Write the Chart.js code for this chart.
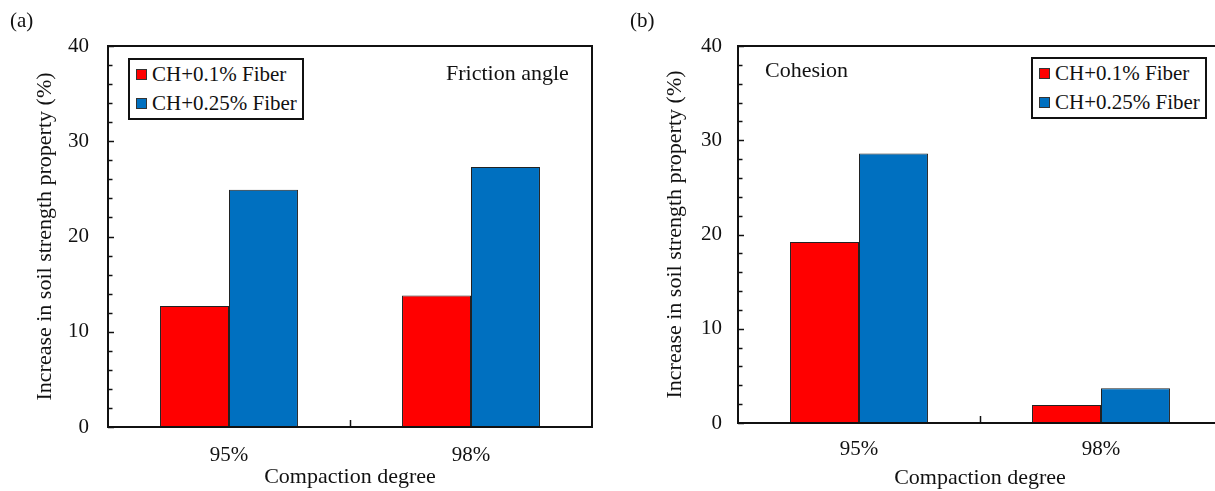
<!DOCTYPE html>
<html>
<head>
<meta charset="utf-8">
<script src="https://cdn.jsdelivr.net/npm/chart.js@4.4.0/dist/chart.umd.min.js"></script>
<style>
  body { margin: 0; background: #fff; }
  #page { position: relative; width: 1215px; height: 491px; overflow: hidden;
          font-family: 'Liberation Serif', 'Times New Roman', serif; color: #111; }
  .panel { position: absolute; top: 0; width: 600px; height: 491px; }
  .panel canvas { position: absolute; left: 0; top: 0; }
  .tag { position: absolute; font-size: 21px; line-height: 24px; white-space: nowrap; }
  .tag.big { font-size: 22px; }
  .legend { position: absolute; border: 2px solid #111; background: #fff; font-size: 21px; }
  .legend .row { display: flex; align-items: center; height: 29px; padding: 0 5px 0 6px; white-space: nowrap; }
  .legend .sw { width: 9px; height: 9px; border: 1px solid #333; margin-right: 5px; }
</style>
</head>
<body>
<div id="page">
  <div class="panel" id="panelA" style="left:0">
    <canvas id="chartA" width="600" height="491"></canvas>
    <div class="tag" style="left:10px; top:8px">(a)</div>
    <div class="tag big" style="left:446px; top:61px">Friction angle</div>
    <div class="legend" id="legendA" style="left:128px; top:58px"></div>
  </div>
  <div class="panel" id="panelB" style="left:630px">
    <canvas id="chartB" width="600" height="491"></canvas>
    <div class="tag" style="left:0px; top:8px">(b)</div>
    <div class="tag big" style="left:135px; top:58px">Cohesion</div>
    <div class="legend" id="legendB" style="left:401px; top:57px"></div>
  </div>
</div>
<script>
// data
const categories = ['95%', '98%'];
const seriesNames = ['CH+0.1% Fiber', 'CH+0.25% Fiber'];
const frictionFiber01 = [12.7, 13.8];
const frictionFiber025 = [24.9, 27.3];
const cohesionFiber01 = [19.2, 1.9];
const cohesionFiber025 = [28.6, 3.7];
const yTicks = [0, 10, 20, 30, 40];
const yMinorStep = 2;

const colors = ['#ff0000', '#0070c0'];

Chart.defaults.font.family = "'Liberation Serif', 'Times New Roman', serif";
Chart.defaults.font.size = 21;
Chart.defaults.color = '#111';

// inward ticks + box frame, like the original plot
const frameTicks = {
  id: 'frameTicks',
  afterDatasetsDraw(chart) {
    const { ctx, chartArea: a, scales: { x, y } } = chart;
    ctx.save();
    ctx.strokeStyle = '#111';
    ctx.lineWidth = 1.5;
    const max = yTicks[yTicks.length - 1];
    for (let v = yTicks[0]; v <= max; v += yMinorStep) {
      const py = Math.round(y.getPixelForValue(v)) + 0.5;
      const len = v % 10 === 0 ? 6 : 4.5;
      ctx.beginPath();
      ctx.moveTo(a.left, py);
      ctx.lineTo(a.left + len, py);
      ctx.stroke();
    }
    // tick between the two categories
    const mid = Math.round((x.getPixelForValue(0) + x.getPixelForValue(1)) / 2) + 0.5;
    ctx.beginPath();
    ctx.moveTo(mid, a.bottom);
    ctx.lineTo(mid, a.bottom - 7);
    ctx.stroke();
    ctx.lineWidth = 2;
    ctx.strokeRect(a.left, a.top, a.right - a.left, a.bottom - a.top);
    ctx.restore();
  }
};

function makeChart(id, first, second, layout) {
  const ctx = document.getElementById(id).getContext('2d');
  return new Chart(ctx, {
    type: 'bar',
    data: {
      labels: categories,
      datasets: [
        { label: seriesNames[0], data: first, backgroundColor: colors[0] },
        { label: seriesNames[1], data: second, backgroundColor: colors[1] }
      ]
    },
    options: {
      responsive: false,
      animation: false,
      events: [],
      datasets: {
        bar: { borderColor: '#222', borderWidth: 1, categoryPercentage: 0.57, barPercentage: 1 }
      },
      layout: { padding: { top: 46, right: 8, left: 0, bottom: 0 } },
      scales: {
        x: {
          grid: { display: false, drawTicks: false },
          border: { display: false },
          ticks: { padding: layout.xTickPad },
          title: { display: true, text: 'Compaction degree', font: { size: 22 },
                   padding: { top: 0, bottom: layout.xTitlePad } },
          afterFit: s => { s.height = layout.xHeight; }
        },
        y: {
          min: yTicks[0],
          max: yTicks[yTicks.length - 1],
          afterBuildTicks: s => { s.ticks = yTicks.map(v => ({ value: v })); },
          grid: { display: false, drawTicks: false },
          border: { display: false },
          ticks: { padding: layout.yTickPad },
          title: { display: true, text: 'Increase in soil strength property (%)', font: { size: 22 },
                   padding: { top: 32, bottom: 0 } },
          afterFit: s => { s.width = 108; }
        }
      },
      plugins: { legend: { display: false }, tooltip: { enabled: false } }
    },
    plugins: [frameTicks]
  });
}

function buildLegend(el, chart) {
  el.innerHTML = chart.data.datasets.map(d =>
    `<div class="row"><span class="sw" style="background:${d.backgroundColor}"></span>${d.label}</div>`
  ).join('');
}

const chartA = makeChart('chartA', frictionFiber01, frictionFiber025,
  { xHeight: 64, xTickPad: 16, xTitlePad: 1, yTickPad: 19 });
const chartB = makeChart('chartB', cohesionFiber01, cohesionFiber025,
  { xHeight: 68, xTickPad: 14, xTitlePad: 0, yTickPad: 16 });

buildLegend(document.getElementById('legendA'), chartA);
buildLegend(document.getElementById('legendB'), chartB);
</script>
</body>
</html>
